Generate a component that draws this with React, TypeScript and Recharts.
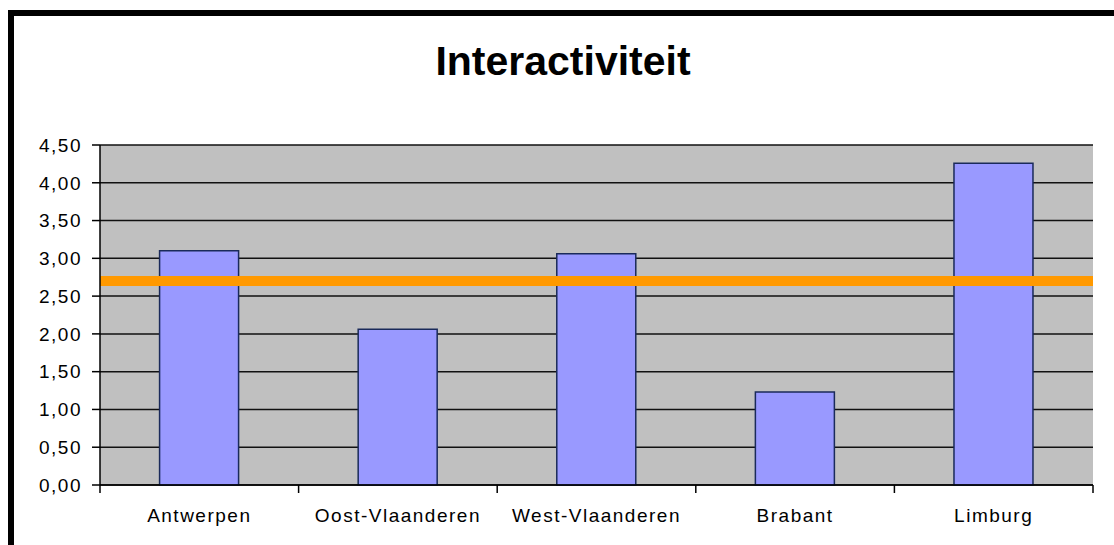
import { BarChart, Bar, XAxis, YAxis, CartesianGrid, ReferenceLine } from "recharts";

const provinces = ["Antwerpen", "Oost-Vlaanderen", "West-Vlaanderen", "Brabant", "Limburg"];
const scores = [3.1, 2.06, 3.06, 1.23, 4.26];
const average = 2.7;
const yTicks = [0, 0.5, 1, 1.5, 2, 2.5, 3, 3.5, 4, 4.5];

const data = provinces.map((name, i) => ({ name, score: scores[i] }));

const fmt = (v: number) => v.toFixed(2).replace(".", ",");

const LABEL_GAP = 24;

// category label plus the Excel-style tick marks between the categories
function CategoryTick(props: any) {
  const { x, y, payload, index } = props;
  const axisY = y - LABEL_GAP;
  const half = payload?.offset ?? 0;
  return (
    <g>
      <line x1={x + half} x2={x + half} y1={axisY} y2={axisY + 8} stroke="#000" strokeWidth={1.5} />
      {index === 0 && <line x1={x - half} x2={x - half} y1={axisY} y2={axisY + 8} stroke="#000" strokeWidth={1.5} />}
      <text x={x} y={y} dy="0.71em" textAnchor="middle" fill="#000" fontSize={19} letterSpacing={1.5}>
        {payload.value}
      </text>
    </g>
  );
}

export default function App() {
  const font = "'Liberation Sans', Arial, sans-serif";
  return (
    <div style={{ position: "absolute", left: 0, top: 0, width: 1114, height: 545, background: "#fff", fontFamily: font }}>
      <div
        style={{
          position: "absolute",
          left: 8,
          top: 10,
          width: 1106,
          height: 535,
          borderTop: "6px solid #000",
          borderLeft: "6px solid #000",
          boxSizing: "border-box",
        }}
      />
      <div
        style={{
          position: "absolute",
          left: 263,
          top: 41,
          width: 600,
          textAlign: "center",
          fontSize: 41,
          fontWeight: "bold",
          lineHeight: 1,
          color: "#000",
        }}
      >
        Interactiviteit
      </div>
      <div style={{ position: "absolute", left: 0, top: 0 }}>
        <BarChart
          width={1114}
          height={545}
          data={data}
          margin={{ top: 145, right: 21, bottom: 59, left: 30 }}
          barCategoryGap="30%"
          style={{ fontFamily: font }}
        >
          <CartesianGrid vertical={false} fill="#C0C0C0" stroke="#111" strokeWidth={1.5} />
          <XAxis
            dataKey="name"
            height={1}
            tickLine={false}
            tickSize={0}
            axisLine={{ stroke: "#000", strokeWidth: 1.5 }}
            tickMargin={LABEL_GAP}
            interval={0}
            tick={<CategoryTick />}
          />
          <YAxis
            width={70}
            domain={[0, 4.5]}
            ticks={yTicks}
            interval={0}
            tickFormatter={fmt}
            tickSize={8}
            tickMargin={10}
            axisLine={{ stroke: "#000", strokeWidth: 1.5 }}
            tickLine={{ stroke: "#000", strokeWidth: 1.5 }}
            tick={{ fill: "#000", fontSize: 19, letterSpacing: 1.5 }}
          />
          <Bar dataKey="score" fill="#9999FF" stroke="#1a2a5a" strokeWidth={1.5} isAnimationActive={false} />
          <ReferenceLine y={average} stroke="#FF9900" strokeWidth={10} />
        </BarChart>
      </div>
    </div>
  );
}
